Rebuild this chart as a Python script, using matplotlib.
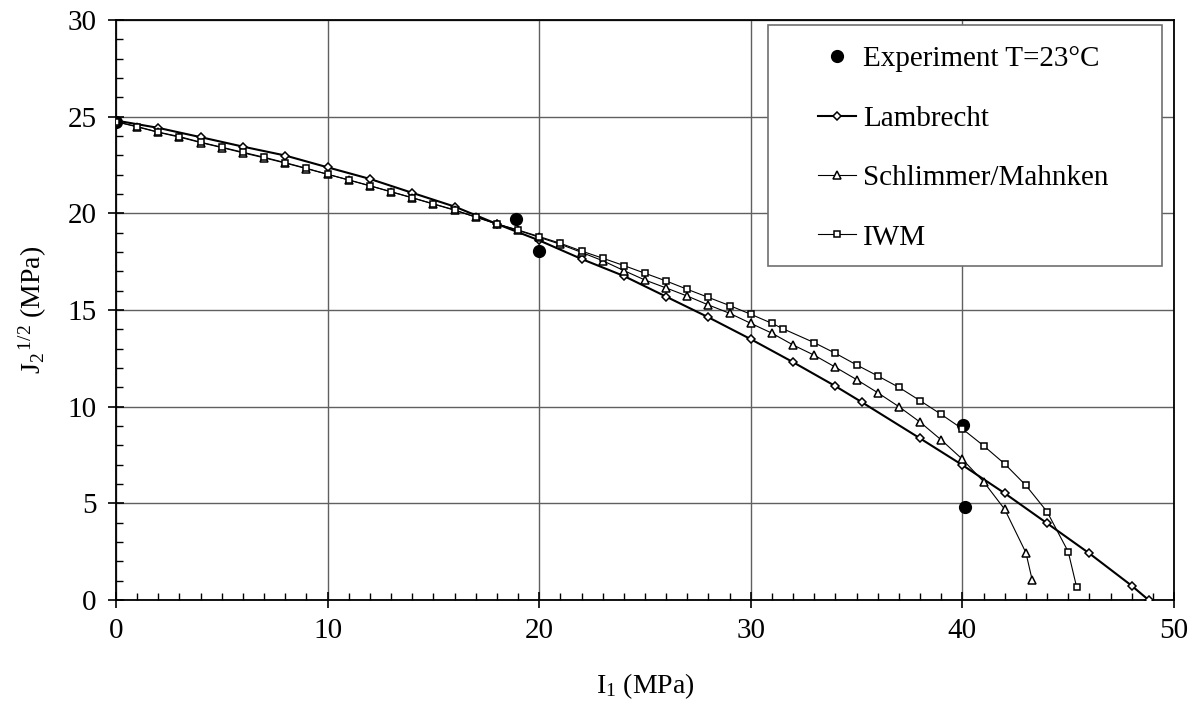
import matplotlib
matplotlib.use('Agg')
import matplotlib.pyplot as plt
from matplotlib.ticker import MultipleLocator
from matplotlib.patches import Rectangle

plt.rcParams['font.family'] = 'Liberation Serif'
plt.rcParams['mathtext.fontset'] = 'custom'
plt.rcParams['mathtext.rm'] = 'Liberation Serif'
plt.rcParams['mathtext.it'] = 'Liberation Serif:italic'

# experiment points
exp_i1 = [0.0, 18.88, 19.98, 40.05, 40.12]
exp_j2 = [24.75, 19.69, 18.05, 9.05, 4.83]

# Lambrecht model
lam_i1 = [0, 2, 4, 6, 8, 10, 12, 14, 16, 18, 20, 22, 24, 26, 28, 30, 32, 34,
          35.25, 38, 40, 42, 44, 46, 48, 48.8]
lam_j2 = [24.8, 24.42, 23.94, 23.45, 22.99, 22.38, 21.78, 21.06, 20.35, 19.45,
          18.6, 17.64, 16.76, 15.69, 14.62, 13.49, 12.3, 11.06, 10.23, 8.36,
          6.98, 5.52, 3.97, 2.41, 0.74, 0.0]

# Schlimmer/Mahnken model
sm_i1 = [0, 1, 2, 3, 4, 5, 6, 7, 8, 9, 10, 11, 12, 13, 14, 15, 16, 17, 18, 19,
         20, 21, 22, 23, 24, 25, 26, 27, 28, 29, 30, 31, 32, 33, 34, 35, 36, 37,
         38, 39, 40, 41, 42, 43, 43.3]
sm_j2 = [24.74, 24.47, 24.19, 23.94, 23.66, 23.4, 23.13, 22.87, 22.6, 22.31,
         22.02, 21.72, 21.42, 21.11, 20.8, 20.48, 20.16, 19.81, 19.46, 19.12,
         18.76, 18.4, 17.98, 17.55, 17.04, 16.55, 16.14, 15.72, 15.26, 14.83,
         14.31, 13.8, 13.19, 12.66, 12.04, 11.4, 10.72, 10.0, 9.2, 8.28, 7.28,
         6.12, 4.69, 2.45, 1.03]

# IWM model
iwm_i1 = [0, 1, 2, 3, 4, 5, 6, 7, 8, 9, 10, 11, 12, 13, 14, 15, 16, 17, 18, 19,
          20, 21, 22, 23, 24, 25, 26, 27, 28, 29, 30, 31, 31.5, 33, 34, 35, 36,
          37, 38, 39, 40, 41, 42, 43, 44, 45, 45.4]
iwm_j2 = [24.74, 24.49, 24.2, 23.97, 23.68, 23.42, 23.16, 22.9, 22.62, 22.33,
          22.02, 21.73, 21.43, 21.12, 20.81, 20.49, 20.18, 19.8, 19.45, 19.14,
          18.8, 18.45, 18.05, 17.68, 17.3, 16.9, 16.5, 16.07, 15.65, 15.23,
          14.78, 14.31, 14.04, 13.31, 12.76, 12.16, 11.59, 11.0, 10.31, 9.6,
          8.85, 7.98, 7.04, 5.93, 4.57, 2.5, 0.66]

fig = plt.figure(figsize=(11.97, 7.11), dpi=100)
ax = fig.add_axes([116 / 1197, 1 - 600 / 711, 1058 / 1197, 580 / 711])

ax.grid(which='major', color='#606060', linewidth=1.0, zorder=0)
ax.set_axisbelow(True)

ax.plot(exp_i1, exp_j2, 'o', color='black', markersize=8.5, linestyle='none',
        label='Experiment T=23°C', zorder=3)
ax.plot(lam_i1, lam_j2, '-D', color='black', linewidth=1.5, markersize=4.2,
        markerfacecolor='white', markeredgewidth=1.1, label='Lambrecht', zorder=4)
ax.plot(sm_i1, sm_j2, '-^', color='black', linewidth=0.8, markersize=6,
        markerfacecolor='white', markeredgewidth=1.1, label='Schlimmer/Mahnken',
        zorder=5)
ax.plot(iwm_i1, iwm_j2, '-s', color='black', linewidth=0.8, markersize=5,
        markerfacecolor='white', markeredgewidth=1.1, label='IWM', zorder=6)

ax.set_xlim(0, 50)
ax.set_ylim(0, 30)
ax.xaxis.set_major_locator(MultipleLocator(10))
ax.xaxis.set_minor_locator(MultipleLocator(1))
ax.yaxis.set_major_locator(MultipleLocator(5))
ax.yaxis.set_minor_locator(MultipleLocator(1))
ax.tick_params(which='major', direction='inout', length=12, width=1.2,
               labelsize=21)
ax.tick_params(axis='x', which='major', pad=7)
ax.tick_params(axis='y', which='major', pad=8)
ax.tick_params(which='minor', direction='in', length=5, width=1.0)
for s in ax.spines.values():
    s.set_linewidth(1.3)
    s.set_color('black')

fig.text(645 / 1197, 1 - 686 / 711, r'I$_1$ (MPa)', ha='center', va='center',
         fontsize=20)
fig.text(33 / 1197, 1 - 310 / 711, r'J$_2$$^{\,1/2}$ (MPa)', ha='center',
         va='center', rotation=90, fontsize=20)

# legend box
box = Rectangle((768 / 1197, 1 - 266 / 711), 394 / 1197, 241 / 711,
                transform=fig.transFigure, facecolor='white',
                edgecolor='#707070', linewidth=1.2, zorder=2)
fig.add_artist(box)

handles, labels = ax.get_legend_handles_labels()
leg = fig.legend(handles, labels, loc='upper left',
                 bbox_to_anchor=(818 / 1197, 1 - 46 / 711), frameon=False,
                 fontsize=21, handlelength=1.3, handletextpad=0.25,
                 labelspacing=1.13, borderpad=0, borderaxespad=0)
leg.set_zorder(3)

fig.savefig('out.png', dpi=100)
